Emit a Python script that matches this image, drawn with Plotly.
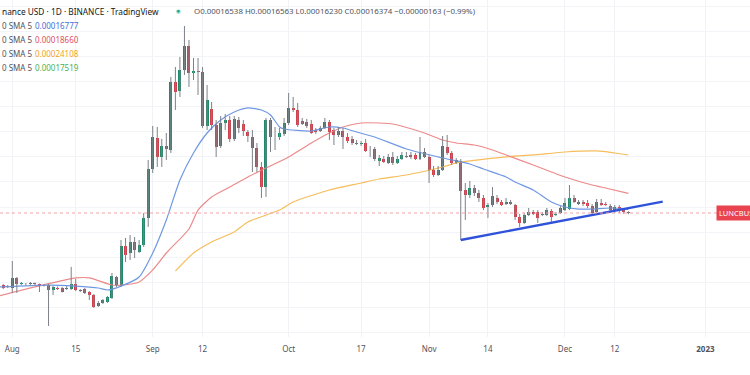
import plotly.graph_objects as go
import pandas as pd
import numpy as np

# ---------------- data (prices in units of 1e-4 BUSD) ----------------
START_DATE = "2022-07-30"
SCALE = 1e-4

open_e4 = [1.010, 1.000, 0.993, 1.062, 1.020, 1.023, 1.017, 1.027, 1.020, 1.010,
           1.013, 0.980, 0.996, 0.996, 0.986, 0.986, 1.020, 0.980, 0.986, 0.967,
           0.948, 0.881, 0.899, 0.905, 0.929, 1.069, 1.013, 1.314, 1.254, 1.350,
           1.262, 1.323, 1.584, 2.196, 2.700, 2.379, 2.560, 2.492, 3.922, 3.694,
           4.248, 4.986, 4.165, 4.221, 4.193, 2.925, 3.276, 2.944, 2.560, 2.984,
           3.044, 2.682, 3.044, 2.964, 2.810, 2.718, 2.526, 2.225, 1.947, 3.044,
           2.718, 2.718, 2.773, 2.984, 3.298, 3.254, 3.024, 3.004, 2.964, 2.847,
           2.829, 2.886, 3.004, 2.847, 2.754, 2.829, 2.718, 2.682, 2.611, 2.594,
           2.611, 2.492, 2.509, 2.316, 2.347, 2.285, 2.379, 2.285, 2.347, 2.395,
           2.411, 2.411, 2.347, 2.459, 2.379, 2.181, 2.109, 2.181, 2.543, 2.443,
           2.285, 2.316, 1.909, 1.846, 1.934, 1.871, 1.810, 1.704, 1.727, 1.810,
           1.762, 1.739, 1.762, 1.727, 1.594, 1.532, 1.616, 1.648, 1.648, 1.616,
           1.616, 1.659, 1.616, 1.637, 1.670, 1.681, 1.810, 1.739, 1.762, 1.750,
           1.716, 1.648, 1.750, 1.739, 1.716, 1.659, 1.704, 1.670, 1.6538]
high_e4 = [1.020, 1.013, 1.189, 1.069, 1.034, 1.027, 1.034, 1.030, 1.023, 1.017,
           1.020, 1.006, 1.003, 1.000, 1.006, 1.143, 1.055, 0.986, 0.993, 0.973,
           0.954, 0.911, 0.923, 0.942, 1.098, 1.076, 1.368, 1.386, 1.414, 1.395,
           1.368, 1.637, 2.331, 2.925, 2.905, 2.682, 2.791, 4.055, 4.335, 4.634,
           5.698, 5.189, 4.603, 4.603, 4.335, 3.844, 3.433, 3.044, 3.127, 3.169,
           3.127, 3.127, 3.106, 3.044, 2.847, 2.847, 2.611, 2.300, 3.085, 3.085,
           2.905, 2.886, 3.085, 3.645, 3.549, 3.410, 3.085, 3.065, 3.044, 2.886,
           2.925, 3.085, 3.044, 2.886, 2.905, 2.886, 2.791, 2.736, 2.664, 2.646,
           2.682, 2.560, 2.543, 2.411, 2.395, 2.427, 2.459, 2.395, 2.459, 2.459,
           2.459, 2.443, 2.718, 2.526, 2.411, 2.240, 2.240, 2.736, 2.754, 2.476,
           2.363, 2.347, 2.000, 2.027, 1.974, 1.909, 1.846, 1.750, 1.947, 1.846,
           1.786, 1.810, 1.786, 1.739, 1.627, 1.637, 1.693, 1.670, 1.670, 1.648,
           1.693, 1.681, 1.648, 1.716, 1.810, 1.974, 1.846, 1.786, 1.786, 1.786,
           1.739, 1.798, 1.798, 1.762, 1.739, 1.727, 1.727, 1.693, 1.6563]
low_e4 = [0.986, 0.993, 0.961, 0.961, 1.013, 1.010, 1.013, 1.013, 0.967, 1.003,
          0.771, 0.948, 0.980, 0.964, 0.980, 0.980, 0.973, 0.967, 0.954, 0.917,
          0.869, 0.875, 0.893, 0.899, 0.923, 1.000, 1.000, 1.181, 1.197, 1.213,
          1.254, 1.306, 1.492, 2.138, 2.225, 2.225, 2.331, 2.443, 3.254, 3.549,
          4.109, 3.793, 3.974, 3.596, 2.886, 2.847, 2.847, 2.379, 2.526, 2.847,
          2.629, 2.646, 2.791, 2.736, 2.629, 2.152, 2.152, 1.810, 1.822, 2.459,
          2.492, 2.664, 2.736, 2.944, 3.211, 2.905, 2.944, 2.886, 2.773, 2.773,
          2.810, 2.867, 2.664, 2.576, 2.718, 2.509, 2.611, 2.576, 2.576, 2.560,
          2.459, 2.379, 2.316, 2.240, 2.285, 2.270, 2.255, 2.270, 2.331, 2.363,
          2.347, 2.331, 2.331, 2.363, 2.000, 2.082, 2.096, 2.167, 2.411, 2.255,
          2.270, 1.368, 1.563, 1.810, 1.834, 1.762, 1.670, 1.584, 1.704, 1.739,
          1.716, 1.727, 1.727, 1.563, 1.492, 1.522, 1.605, 1.616, 1.532, 1.605,
          1.605, 1.542, 1.605, 1.627, 1.659, 1.670, 1.750, 1.727, 1.716, 1.693,
          1.627, 1.637, 1.716, 1.716, 1.659, 1.637, 1.637, 1.627, 1.6230]
close_e4 = [0.996, 1.006, 1.062, 1.020, 1.027, 1.017, 1.030, 1.020, 1.013, 1.013,
            0.980, 1.000, 0.986, 0.970, 0.993, 1.020, 0.980, 0.973, 0.961, 0.948,
            0.875, 0.899, 0.917, 0.935, 1.076, 1.013, 1.314, 1.237, 1.350, 1.280,
            1.323, 1.584, 2.196, 2.718, 2.379, 2.560, 2.509, 3.922, 3.669, 4.248,
            4.986, 4.165, 4.221, 4.193, 2.925, 3.478, 2.944, 2.543, 2.984, 3.044,
            2.682, 3.065, 2.886, 2.829, 2.736, 2.526, 2.225, 1.947, 3.044, 2.718,
            2.709, 2.791, 2.984, 3.298, 3.254, 2.944, 2.964, 2.925, 2.791, 2.810,
            2.886, 3.004, 2.810, 2.754, 2.829, 2.718, 2.646, 2.611, 2.594, 2.603,
            2.476, 2.484, 2.347, 2.363, 2.300, 2.379, 2.285, 2.347, 2.411, 2.379,
            2.379, 2.347, 2.459, 2.379, 2.181, 2.109, 2.181, 2.560, 2.443, 2.285,
            2.331, 1.896, 1.846, 1.934, 1.871, 1.810, 1.693, 1.727, 1.834, 1.762,
            1.727, 1.762, 1.739, 1.594, 1.532, 1.616, 1.648, 1.627, 1.584, 1.627,
            1.670, 1.594, 1.627, 1.693, 1.750, 1.810, 1.762, 1.762, 1.739, 1.716,
            1.637, 1.762, 1.727, 1.727, 1.670, 1.704, 1.670, 1.648, 1.6374]

sma_blue_dates = ["2022-07-29", "2022-08-09", "2022-08-15", "2022-08-20", "2022-08-22",
                  "2022-08-25", "2022-08-29", "2022-09-01", "2022-09-04", "2022-09-07",
                  "2022-09-10", "2022-09-13", "2022-09-16", "2022-09-19", "2022-09-22",
                  "2022-09-25", "2022-09-27", "2022-09-29", "2022-09-30", "2022-10-06",
                  "2022-10-10", "2022-10-13", "2022-10-16", "2022-10-20", "2022-10-27",
                  "2022-11-04", "2022-11-10", "2022-11-13", "2022-11-18", "2022-11-20",
                  "2022-11-24", "2022-11-28", "2022-12-01", "2022-12-04", "2022-12-07",
                  "2022-12-11", "2022-12-15"]
sma_blue_e4 = [1.000, 1.013, 1.006, 0.993, 0.980, 1.006, 1.069, 1.254, 1.563, 2.040,
               2.443, 2.791, 3.044, 3.211, 3.298, 3.254, 3.147, 2.905, 2.867, 2.829,
               2.905, 2.886, 2.810, 2.718, 2.509, 2.363, 2.270, 2.196, 2.082, 2.013,
               1.909, 1.762, 1.704, 1.681, 1.681, 1.693, 1.6777]

sma_red_dates = ["2022-07-29", "2022-08-15", "2022-08-18", "2022-08-23", "2022-08-25",
                 "2022-08-29", "2022-09-01", "2022-09-04", "2022-09-09", "2022-09-11",
                 "2022-09-14", "2022-09-18", "2022-09-22", "2022-09-26", "2022-10-01",
                 "2022-10-06", "2022-10-10", "2022-10-13", "2022-10-17", "2022-10-21",
                 "2022-10-24", "2022-10-31", "2022-11-04", "2022-11-07", "2022-11-11",
                 "2022-11-15", "2022-11-18", "2022-11-24", "2022-12-01", "2022-12-07",
                 "2022-12-09", "2022-12-15"]
sma_red_e4 = [0.942, 1.062, 1.062, 1.013, 1.013, 1.034, 1.120, 1.254, 1.472, 1.670,
              1.822, 1.947, 2.082, 2.210, 2.379, 2.611, 2.791, 2.905, 2.984, 2.984,
              2.964, 2.791, 2.664, 2.611, 2.576, 2.492, 2.411, 2.255, 2.082, 1.974,
              1.947, 1.8660]

sma_orange_dates = ["2022-09-06", "2022-09-10", "2022-09-14", "2022-09-19", "2022-09-22",
                    "2022-09-29", "2022-10-02", "2022-10-10", "2022-10-17", "2022-10-21",
                    "2022-10-27", "2022-11-04", "2022-11-07", "2022-11-18", "2022-11-24",
                    "2022-12-01", "2022-12-08", "2022-12-12", "2022-12-15"]
sma_orange_e4 = [1.112, 1.254, 1.350, 1.443, 1.542, 1.670, 1.762, 1.909, 2.000, 2.054,
                 2.109, 2.225, 2.285, 2.379, 2.411, 2.459, 2.476, 2.443, 2.4108]

trend_dates = ["2022-11-08 00:00", "2022-12-22 14:00"]
trend_e4 = [1.368, 1.766]

legend_labels = ["0 SMA 5", "0 SMA 5", "0 SMA 5", "0 SMA 5"]
legend_values = ["0.00016777", "0.00018660", "0.00024108", "0.00017519"]

tick_dates = ["2022-08-01", "2022-08-15", "2022-09-01", "2022-09-12", "2022-10-01",
              "2022-10-17", "2022-11-01", "2022-11-14", "2022-12-01", "2022-12-12",
              "2023-01-01"]
tick_labels = ["Aug", "15", "Sep", "12", "Oct", "17", "Nov", "14", "Dec", "12", "<b>2023</b>"]

# price-scale grid levels (×1e-4)
grid_e4 = [0.740, 0.874, 1.033, 1.221, 1.442, 1.704, 2.015, 2.381, 2.813, 3.323,
           3.926, 4.638, 5.480, 6.470]

header_text = "nance USD · 1D · BINANCE · TradingView"
ohlc_text = "O0.00016538 H0.00016563 L0.00016230 C0.00016374 −0.00000163 (−0.99%)"
symbol_text = "LUNCBUSD"

# ---------------- styling ----------------
UP = "#1f8a6b"
DOWN = "#cf414c"
WICK = "#7d8088"
BLUE = "#6f98e3"
RED = "#ec8a8a"
ORANGE = "#f6bd5c"
TREND = "#2f52d9"
FONT = "Noto Sans"

W, H = 750, 375
PLOT_B = 38

dates = pd.date_range(START_DATE, periods=len(open_e4), freq="D")
o = np.array(open_e4) * SCALE
h = np.array(high_e4) * SCALE
l = np.array(low_e4) * SCALE
c = np.array(close_e4) * SCALE
up = c >= o

fig = go.Figure()

# SMA lines
for dts, vals, col in [(sma_orange_dates, sma_orange_e4, ORANGE),
                       (sma_red_dates, sma_red_e4, RED),
                       (sma_blue_dates, sma_blue_e4, BLUE)]:
    fig.add_trace(go.Scatter(x=pd.to_datetime(dts), y=np.array(vals) * SCALE,
                             mode="lines", line=dict(color=col, width=1.2, shape="spline", smoothing=0.6),
                             hoverinfo="skip", showlegend=False))

# wicks
xs, ys = [], []
for d, lo, hi in zip(dates, l, h):
    xs += [d, d, None]
    ys += [lo, hi, None]
fig.add_trace(go.Scatter(x=xs, y=ys, mode="lines", line=dict(color=WICK, width=1),
                         hoverinfo="skip", showlegend=False))

# bodies
body_lo = np.minimum(o, c)
body_hi = np.maximum(o, c)
body_hi = np.where(body_hi / body_lo < 1.004, body_lo * 1.004, body_hi)
for mask, col in [(up, UP), (~up, DOWN)]:
    fig.add_trace(go.Bar(x=dates[mask], base=body_lo[mask], y=(body_hi - body_lo)[mask],
                         width=0.66 * 86400000, marker=dict(color=col, line=dict(width=0)),
                         hoverinfo="skip", showlegend=False))

# trend line
fig.add_trace(go.Scatter(x=pd.to_datetime(trend_dates), y=np.array(trend_e4) * SCALE,
                         mode="lines", line=dict(color=TREND, width=2.4),
                         hoverinfo="skip", showlegend=False))

# last price line
fig.add_shape(type="line", xref="paper", x0=0, x1=1, yref="y", y0=c[-1], y1=c[-1],
              line=dict(color="#f3a3aa", width=1, dash="dot"))

plot_h = H - PLOT_B
def py(ypix):
    return 1 - ypix / plot_h

ann = []
ann.append(dict(text=header_text, x=0, y=py(11), xref="paper", yref="paper",
                xanchor="left", yanchor="middle", showarrow=False,
                font=dict(family=FONT, size=8.3, color="#131722")))
ann.append(dict(text="●", x=178 / W, y=py(10), xref="paper", yref="paper",
                xanchor="center", yanchor="middle", showarrow=False,
                font=dict(family=FONT, size=11, color="#bfe8df")))
ann.append(dict(text="●", x=178 / W, y=py(10), xref="paper", yref="paper",
                xanchor="center", yanchor="middle", showarrow=False,
                font=dict(family=FONT, size=7, color="#22ab94")))
ann.append(dict(text=ohlc_text, x=192 / W, y=py(11), xref="paper", yref="paper",
                xanchor="left", yanchor="middle", showarrow=False,
                font=dict(family=FONT, size=7.9, color="#50535e")))
leg_cols = ["#3f6fd8", "#e0505c", "#f5a31a", "#4caf50"]
for i, (lab, val, col) in enumerate(zip(legend_labels, legend_values, leg_cols)):
    yy = 25 + i * 14.3
    ann.append(dict(text=lab, x=0, y=py(yy), xref="paper", yref="paper",
                    xanchor="left", yanchor="middle", showarrow=False,
                    font=dict(family=FONT, size=8, color="#50535e")))
    ann.append(dict(text=val, x=33 / W, y=py(yy), xref="paper", yref="paper",
                    xanchor="left", yanchor="middle", showarrow=False,
                    font=dict(family=FONT, size=8, color=col)))
ann.append(dict(text=symbol_text, x=716 / W, y=np.log10(c[-1]), xref="paper", yref="y",
                xanchor="left", yanchor="middle", showarrow=False,
                bgcolor="#e8434f", borderpad=2,
                font=dict(family=FONT, size=7.5, color="white")))

# axis ranges (pixel geometry of the screenshot)
x0 = "2022-07-29 06:50"
x1 = "2023-01-10 20:24"

fig.update_layout(
    width=W, height=H, margin=dict(l=0, r=0, t=0, b=PLOT_B, autoexpand=False),
    paper_bgcolor="white", plot_bgcolor="white",
    barmode="overlay", bargap=0, showlegend=False,
    annotations=ann,
    xaxis=dict(type="date", range=[x0, x1], tickvals=tick_dates,
               ticktext=tick_labels, showgrid=True, gridcolor="#f0f2f6", gridwidth=1,
               zeroline=False, showline=False, ticks="", ticklabelstandoff=6,
               tickfont=dict(family=FONT, size=8, color="#50535e"), automargin=False,
               rangeslider=dict(visible=False), fixedrange=True),
    yaxis=dict(type="log", range=[-4.14487, -3.16915], showgrid=True,
               tickvals=list(np.array(grid_e4) * SCALE), gridcolor="#f3f4f7", gridwidth=1,
               showticklabels=False, zeroline=False, showline=False, fixedrange=True,
               automargin=False),
)

fig.write_html("out.html", config={"displayModeBar": False, "staticPlot": True},
               post_script="document.body.style.margin='0px';document.body.style.overflow='hidden';")
